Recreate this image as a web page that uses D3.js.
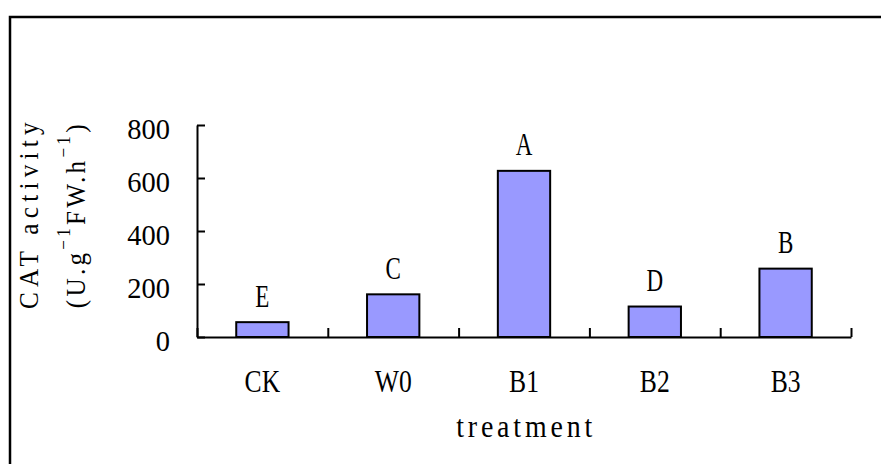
<!DOCTYPE html>
<html><head><meta charset="utf-8">
<script src="https://cdn.jsdelivr.net/npm/d3@7/dist/d3.min.js"></script>
<style>body{margin:0;background:#fff}svg{display:block}</style>
</head><body>
<svg id="chart" width="881" height="464"></svg>
<script>
const categories = ["CK", "W0", "B1", "B2", "B3"];
const values = [56, 161, 627, 115, 258];
const letters = ["E", "C", "A", "D", "B"];
const yTicks = [0, 200, 400, 600, 800];
const xTitle = "treatment";
const yTitle1 = "CAT activity";
const yTitle2 = [["(U.g", false], ["\u22121", true], ["FW.h", false], ["\u22121", true], [")", false]];

const FONT = "'Liberation Serif','Times New Roman',serif";
const svg = d3.select("#chart");

// outer frame
svg.append("rect").attr("x", 10).attr("y", 17).attr("width", 900).attr("height", 500)
  .attr("fill", "none").attr("stroke", "#000").attr("stroke-width", 2.5);

const x0 = 197, x1 = 851, yBase = 337, yTop = 125;
const x = d3.scaleBand().domain(categories).range([x0, x1]).paddingInner(0.6).paddingOuter(0.3);
const xc = d3.scaleBand().domain(categories).range([x0, x1]).padding(0);
const xi = d3.scaleLinear().domain([0, categories.length]).range([x0, x1]);
const y = d3.scaleLinear().domain([0, 800]).range([yBase, yTop]);

// text stretched with letter-spacing to a target length (mimics a monospace CJK font)
function spaced(parent, segs, px, py, sx, target, anchor, rotate) {
  const g = parent.append("g").attr("transform", `translate(${px},${py})` + (rotate ? " rotate(-90)" : ""));
  const t = g.append("text").attr("transform", `scale(${sx},1)`).attr("font-family", FONT).attr("fill", "#000");
  let n = 0, cur = 0;
  segs.forEach(s => {
    const r = s.raise || 0;
    t.append("tspan").attr("font-size", s.size).attr("dy", cur - r).text(s.s);
    cur = r; n += Array.from(s.s).length;
  });
  const len = t.node().getComputedTextLength();
  const ls = (target / sx - len) / n;
  t.attr("letter-spacing", ls);
  const start = anchor === "middle" ? -target / 2 : anchor === "end" ? -target : 0;
  t.attr("x", (start + ls / 2) / sx);
  return t;
}

// bars
svg.append("g").selectAll("rect").data(values).join("rect")
  .attr("x", (d, i) => x(categories[i]))
  .attr("y", d => y(d))
  .attr("width", x.bandwidth())
  .attr("height", d => yBase - y(d))
  .attr("fill", "#9999FF").attr("stroke", "#000").attr("stroke-width", 2);

// y axis
const gy = svg.append("g").attr("transform", `translate(${x0},0)`)
  .call(d3.axisLeft(y).tickValues(yTicks).tickSize(-8).tickSizeOuter(0).tickFormat(""));
gy.selectAll("path,line").attr("stroke", "#000").attr("stroke-width", 2);

// x axis
const gx = svg.append("g").attr("transform", `translate(0,${yBase})`)
  .call(d3.axisBottom(xi).tickValues(d3.range(categories.length + 1)).tickSize(-9).tickSizeOuter(0).tickFormat(""));
gx.selectAll("path,line").attr("stroke", "#000").attr("stroke-width", 2);

// y tick labels
svg.append("g").selectAll("text").data(yTicks).join("text")
  .attr("transform", d => `translate(170,${y(d) + 13.5}) scale(0.95,1)`).attr("text-anchor", "end")
  .attr("font-family", FONT).attr("font-size", 30).text(d => d);

// category labels
svg.append("g").selectAll("text").data(categories).join("text")
  .attr("transform", d => `translate(${xc(d) + xc.bandwidth() / 2},392) scale(0.8,1)`)
  .attr("text-anchor", "middle").attr("font-family", FONT).attr("font-size", 32).text(d => d);

// significance letters
svg.append("g").selectAll("text").data(letters).join("text")
  .attr("transform", (d, i) => `translate(${x(categories[i]) + x.bandwidth() / 2},${y(values[i]) - 15.5}) scale(0.72,1)`)
  .attr("text-anchor", "middle").attr("font-family", FONT).attr("font-size", 32).text(d => d);

// x title
spaced(svg, [{s: xTitle, size: 31}], (x0 + x1) / 2, 437, 0.9, 140, "middle");

// y title
spaced(svg, [{s: yTitle1, size: 28}], 38, 312, 0.9, 192, "start", true);
spaced(svg, yTitle2.map(([s, sup]) => sup ? {s, size: 19, raise: 15} : {s, size: 28}), 85, 310, 0.9, 187, "start", true);
</script>
</body></html>
